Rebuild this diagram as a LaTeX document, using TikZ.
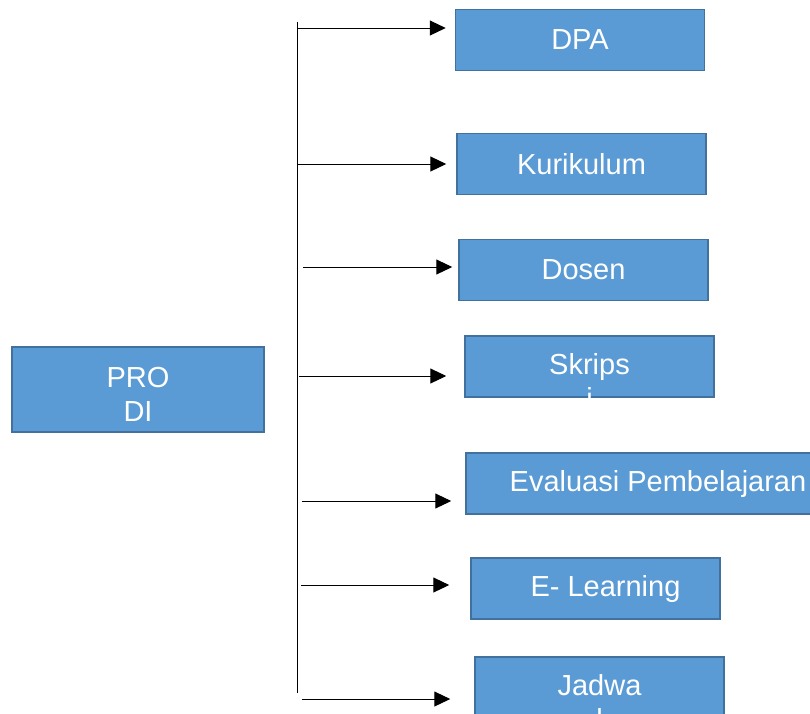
\documentclass[tikz,border=0pt]{standalone}
\usepackage{fontspec}
\setmainfont{Liberation Sans}
\usepackage{tikz}
\usetikzlibrary{arrows.meta}
\definecolor{boxfill}{HTML}{5B9BD5}
\definecolor{boxline}{HTML}{41719C}
\tikzstyle{unit} = [rectangle, minimum width=249pt, minimum height=61pt, inner sep=0pt, text centered, draw=boxline, line width=1.5pt, fill=boxfill, text=white, font=\fontsize{29}{34}\selectfont]
\tikzstyle{lbl} = [inner sep=0pt, align=center, anchor=north, text=white, font=\fontsize{29}{34}\selectfont]
\tikzstyle{arrow} = [line width=1pt, -{Triangle[length=16pt,width=15pt]}]
\tikzstyle{trunk} = [line width=1pt]

\begin{document}
\begin{tikzpicture}[x=1pt, y=-1pt]
\useasboundingbox (0,0) rectangle (810,713);
\clip (0,0) rectangle (810,713);

\node (0) [unit, minimum width=252pt, minimum height=85pt] at (138,389.5) {};
\node (0t) [lbl] at (138,367.2) {PRO\\DI};

\node (1) [unit] at (580,40) {DPA};

\node (2) [unit] at (581.5,164) {Kurikulum};

\node (3) [unit] at (583.5,270) {Dosen};

\node (4) [unit] at (589.5,366.5) {};
\begin{scope}
\clip (4.south west) rectangle (4.north east);
\node (4t) [lbl] at (589.5,353.2) {Skrips\\i};
\end{scope}

\node (5) [unit, minimum width=384pt] at (658,483.5) {Evaluasi Pembelajaran};

\node (6) [unit] at (595.5,588.5) {\hspace*{20pt}E- Learning};

\node (7) [unit] at (599.5,687.5) {};
\node (7t) [lbl] at (599.5,674.2) {Jadwa\\l};

\coordinate (top) at (297,22);
\coordinate (bot) at (297,693);
\draw [trunk] (top) -- (bot);

\coordinate (a1) at (297,28);
\coordinate (a2) at (297,164);
\coordinate (a3) at (303,267);
\coordinate (a4) at (299,376);
\coordinate (a5) at (302,501);
\coordinate (a6) at (301,585);
\coordinate (a7) at (302,699);

\draw [arrow, shorten >=9pt] (a1) -- (a1 -| 1.west);

\draw [arrow, shorten >=10pt] (a2) -- (a2 -| 2.west);

\draw [arrow, shorten >=6pt] (a3) -- (a3 -| 3.west);

\draw [arrow, shorten >=18pt] (a4) -- (a4 -| 4.west);

\draw [arrow, shorten >=14pt] (a5) -- (a5 -| 5.west);

\draw [arrow, shorten >=21pt] (a6) -- (a6 -| 6.west);

\draw [arrow, shorten >=24pt] (a7) -- (a7 -| 7.west);

\end{tikzpicture}
\end{document}
